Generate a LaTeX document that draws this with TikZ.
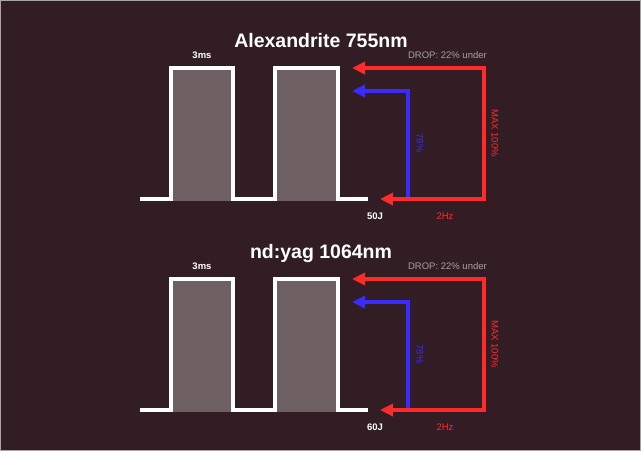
\documentclass[tikz,border=0pt]{standalone}
\usepackage{fontspec}
\setmainfont{Liberation Sans}
\usetikzlibrary{arrows.meta}
\definecolor{bg}{HTML}{321D25}
\definecolor{pulsefill}{HTML}{6E5F63}
\definecolor{lred}{HTML}{FF2B2B}
\definecolor{lblue}{HTML}{3A2BFF}
\definecolor{dropgray}{HTML}{A9A0A3}
\begin{document}
\begin{tikzpicture}[x=1pt,y=-1pt,
  pulseline/.style={draw=white, line width=3.8pt, line join=miter},
  pulsebox/.style={fill=pulsefill, draw=none},
  redarrow/.style={draw=lred, line width=4.4pt, line join=miter,
    {Triangle[length=13pt,width=12pt]}-{Triangle[length=13pt,width=12pt]}},
  bluearrow/.style={draw=lblue, line width=4.4pt, line join=miter,
    -{Triangle[length=13pt,width=12pt]}},
  titletext/.style={text=white, font=\fontsize{19.5}{23}\selectfont\bfseries, inner sep=0pt, anchor=base},
  smalltext/.style={font=\fontsize{9.5}{11}\selectfont, inner sep=0pt, anchor=base},
  boldsmall/.style={smalltext, text=white, font=\fontsize{9.5}{11}\selectfont\bfseries},
]
\useasboundingbox (0,0) rectangle (641,451);
\fill[bg] (0,0) rectangle (641,451);
\draw[gray!70, line width=1pt] (0.5,0.5) rectangle (640.5,450.5);
\foreach \i/\dy/\ttl/\en in {1/0/{Alexandrite 755nm}/50J, 2/211/{nd:yag 1064nm}/60J} {
  \begin{scope}[yshift=-\dy pt]
    % title and labels
    \node[titletext] (title\i) at (321,47.3) {\ttl};
    \node[boldsmall] (ms\i) at (202,58.5) {3ms};
    \node[smalltext, text=dropgray, anchor=base east] (drop\i) at (487,58.5) {DROP: 22\% under};
    \node[boldsmall] (en\i) at (375,219.5) {\en};
    \node[smalltext, text=lred] (hz\i) at (445,219.5) {2Hz};
    \node[smalltext, text=lblue, anchor=center, rotate=-90] (pct\i) at (420,143) {78\%};
    \node[smalltext, text=lred, anchor=center, rotate=-90] (max\i) at (495,133) {MAX 100\%};
    % pulses
    \fill[pulsebox] (173,70) rectangle (231,201);
    \fill[pulsebox] (277,70) rectangle (336,201);
    \draw[pulseline] (140,199) -- (171,199) -- (171,68) -- (233,68) -- (233,199)
      -- (275,199) -- (275,68) -- (338,68) -- (338,199) -- (368,199);
    % arrows
    \coordinate (bbase\i) at (408,197);
    \coordinate (bcorner\i) at (408,91);
    \coordinate (btip\i) at (352,91);
    \draw[bluearrow] (bbase\i) -- (bcorner\i) -- (btip\i);
    \coordinate (rend\i) at (380,199);
    \coordinate (rbot\i) at (484,199);
    \coordinate (rtop\i) at (484,68);
    \coordinate (rtip\i) at (352,68);
    \draw[redarrow] (rend\i) -- (rbot\i) -- (rtop\i) -- (rtip\i);
  \end{scope}
}
\end{tikzpicture}
\end{document}
